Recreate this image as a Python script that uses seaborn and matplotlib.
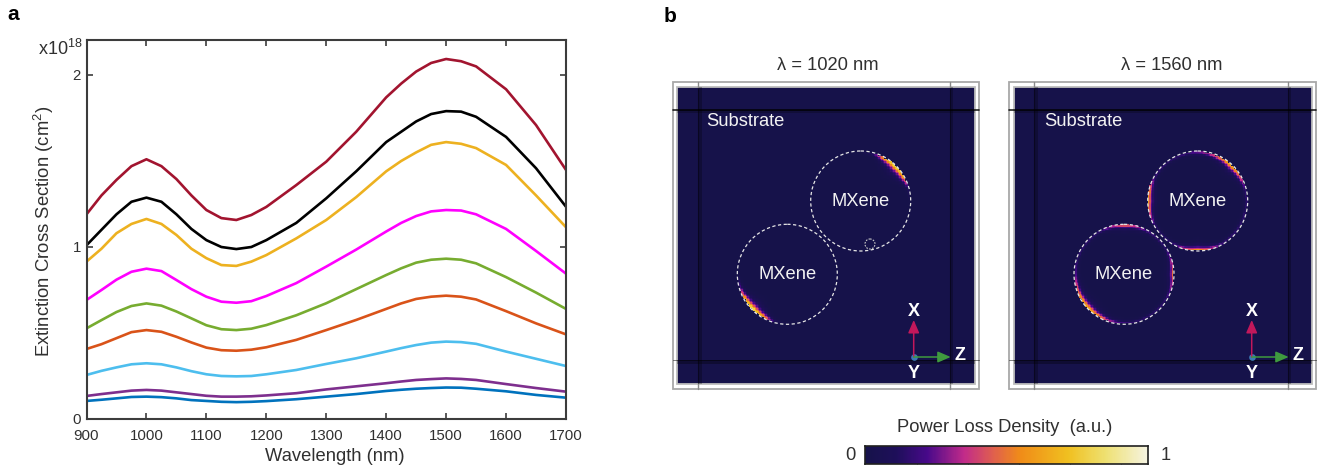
# Extinction spectra and power loss maps for MXene spheres
import numpy as np
import matplotlib.pyplot as plt
from matplotlib.colors import LinearSegmentedColormap
from matplotlib.patches import Rectangle, Circle
import seaborn as sns

W, H = 1319, 472

wavelength = [900, 925, 950, 975, 1000, 1025, 1050, 1075, 1100, 1125, 1150, 1175, 1200,
              1250, 1300, 1350, 1400, 1425, 1450, 1475, 1500, 1525, 1550, 1600, 1650, 1700]

blue = [.105, .112, .12, .128, .13, .127, .12, .11, .105, .10, .098, .10, .104,
        .115, .13, .145, .163, .17, .176, .18, .183, .182, .176, .161, .14, .124]
purple = [.134, .145, .155, .165, .169, .165, .155, .145, .135, .13, .13, .132, .137,
          .15, .172, .19, .208, .218, .227, .232, .236, .233, .227, .203, .18, .159]
light_blue = [.256, .28, .30, .318, .324, .318, .30, .278, .26, .25, .248, .25, .26,
              .285, .32, .353, .392, .412, .43, .444, .45, .447, .437, .392, .35, .308]
orange_red = [.407, .435, .47, .505, .517, .507, .478, .445, .415, .40, .397, .403, .417,
              .46, .517, .576, .64, .672, .698, .711, .717, .711, .695, .627, .556, .492]
green = [.527, .575, .622, .657, .672, .659, .625, .585, .545, .522, .517, .525, .546,
         .603, .673, .755, .837, .876, .909, .926, .932, .926, .905, .825, .735, .64]
magenta = [.692, .75, .81, .856, .874, .86, .808, .755, .711, .682, .676, .685, .715,
           .79, .886, .985, 1.09, 1.14, 1.18, 1.207, 1.215, 1.212, 1.19, 1.105, .977, .845]
yellow = [.915, .99, 1.08, 1.134, 1.163, 1.134, 1.07, .99, .935, .895, .89, .915, .953,
          1.05, 1.157, 1.29, 1.44, 1.50, 1.55, 1.594, 1.61, 1.60, 1.575, 1.477, 1.30, 1.115]
black = [1.01, 1.10, 1.19, 1.263, 1.287, 1.263, 1.19, 1.105, 1.04, 1.0, .988, 1.0, 1.04,
         1.14, 1.283, 1.44, 1.61, 1.67, 1.73, 1.773, 1.79, 1.787, 1.757, 1.64, 1.458, 1.234]
dark_red = [1.19, 1.30, 1.39, 1.47, 1.51, 1.47, 1.395, 1.30, 1.215, 1.168, 1.157, 1.186, 1.233,
            1.36, 1.496, 1.67, 1.87, 1.95, 2.02, 2.07, 2.093, 2.08, 2.05, 1.917, 1.709, 1.448]

series = [blue, purple, light_blue, orange_red, green, magenta, yellow, black, dark_red]
colors = ['#0072bd', '#7e2f8e', '#4dbeee', '#d95319', '#77ac30', '#ff00ff', '#edb120', '#000000', '#a2142f']

x_ticks = [900, 1000, 1100, 1200, 1300, 1400, 1500, 1600, 1700]
y_ticks = [0, 1, 2]

# rim intensity every 15 deg around each sphere, counter clockwise from +z
rim_angles = [0, 15, 30, 45, 60, 75, 90, 105, 120, 135, 150, 165, 180, 195, 210, 225, 240, 255,
              270, 285, 300, 315, 330, 345, 360]
rim_1020_upper = [0, .1, .6, .8, .62, .12, 0, 0, 0, 0, 0, 0, 0, 0, 0, 0, 0, 0, 0, 0, 0, 0, 0, 0, 0]
rim_1020_lower = [0, 0, 0, 0, 0, 0, 0, 0, 0, 0, 0, 0, 0, .2, .6, .8, .6, .08, 0, 0, 0, 0, 0, 0, 0]
rim_1560_upper = [.14, .16, .42, .65, .5, .32, .24, .16, .14, .14, .16, .45, .62, .38, .14, .14, .14, .36,
                  .6, .38, .16, .14, .14, .14, .14]
rim_1560_lower = [.5, .3, .14, .14, .18, .32, .45, .3, .14, .14, .14, .14, .2, .42, .55, .62, .5, .28,
                  .18, .14, .14, .14, .14, .28, .5]

cmap_colors = ['#16124a', '#1e0f5a', '#48098a', '#c12a8a', '#e0604d', '#f08c18', '#f0c020', '#eee070', '#f5f3e0']
cmap_stops = [0, .11, .22, .35, .455, .55, .72, .85, 1]
power_cmap = LinearSegmentedColormap.from_list('power', list(zip(cmap_stops, cmap_colors)))

sns.set_theme(style='ticks')
plt.rcParams['font.family'] = ['Liberation Sans', 'DejaVu Sans']
plt.rcParams['mathtext.default'] = 'regular'

DARK = '#3c3c3c'
TEXT = '#303030'

fig = plt.figure(figsize=(W / 100, H / 100), dpi=100)


def add_px_axes(left, top, right, bottom):
    return fig.add_axes([left / W, (H - bottom) / H, (right - left) / W, (bottom - top) / H])


# panel a
ax = add_px_axes(86.5, 40, 566, 419)
for vals, c in zip(series, colors):
    sns.lineplot(x=wavelength, y=vals, color=c, linewidth=1.9, ax=ax, errorbar=None)
ax.set_xlim(900, 1700)
ax.set_ylim(0, 379 / 172)
ax.set_xticks(x_ticks)
ax.set_yticks(y_ticks)
ax.tick_params(direction='in', length=4.5, width=1.2, color=DARK, top=True, right=True,
               labelsize=10.8, labelcolor=TEXT)
ax.tick_params(axis='x', pad=7)
ax.tick_params(axis='y', pad=4)
for s in ax.spines.values():
    s.set_visible(True)
    s.set_linewidth(1.5)
    s.set_color(DARK)
ax.set_xlabel('Wavelength (nm)', fontsize=13.2, color=TEXT)
ax.set_ylabel('Extinction Cross Section (cm$^{2}$)', fontsize=13.3, color=TEXT)
ax.xaxis.set_label_coords(0.518, -0.077)
ax.yaxis.set_label_coords(-0.064, 0.495)


def power_field(upper, lower, c_upper, c_lower, box, n=200, rad=50, depth=3.2):
    xs = np.linspace(box[0], box[2], n)
    ys = np.linspace(box[1], box[3], n)
    xx, yy = np.meshgrid(xs, ys)
    field = np.zeros_like(xx)
    for rim, (cx, cy) in ((upper, c_upper), (lower, c_lower)):
        dx, dy = xx - cx, cy - yy
        r = np.hypot(dx, dy)
        theta = np.degrees(np.arctan2(dy, dx)) % 360
        peak = np.interp(theta, rim_angles, rim)
        glow = peak * np.exp(-np.maximum(rad - 1.5 - r, 0) / (depth * (0.25 + peak)))
        field = np.where(r <= rad, np.maximum(field, glow), field)
    return field


# panel b, everything below is placed in figure pixels
panels = [
    dict(title='\u03bb = 1020 nm', frame=(672.7, 82.3, 979, 389.3), inner=(677.3, 87.3, 975, 384),
         vlines=(700, 951.5), upper=(860.7, 201), lower=(787.3, 274.3), rims=(rim_1020_upper, rim_1020_lower),
         origin=(913.7, 357), title_x=828, substrate_x=745),
    dict(title='\u03bb = 1560 nm', frame=(1009.3, 82.3, 1316, 389.3), inner=(1014, 87.3, 1311.7, 384),
         vlines=(1036, 1289.5), upper=(1197.7, 201), lower=(1124, 274.3), rims=(rim_1560_upper, rim_1560_lower),
         origin=(1251.7, 357), title_x=1172, substrate_x=1083.7),
]

for p in panels:
    hm_ax = add_px_axes(p['inner'][0], p['inner'][1], p['inner'][2], p['inner'][3])
    field = power_field(p['rims'][0], p['rims'][1], p['upper'], p['lower'], p['inner'])
    sns.heatmap(field, cmap=power_cmap, vmin=0, vmax=1, cbar=False, xticklabels=False, yticklabels=False,
                ax=hm_ax, rasterized=True)

over = fig.add_axes([0, 0, 1, 1], facecolor='none')
over.set_xlim(0, W)
over.set_ylim(H, 0)
over.axis('off')

FS = 13.2
for p in panels:
    l, t, r, b = p['frame']
    il, it, ir, ib = p['inner']
    over.add_patch(Rectangle((l, t), r - l, b - t, fill=False, ec='#a8a8a8', lw=1.3))
    over.add_patch(Rectangle((il, it), ir - il, ib - it, fill=False, ec='#bdbdbd', lw=1.3))
    # simulation box edges seen through the substrate
    for vx in p['vlines']:
        over.add_patch(Rectangle((vx - 1.8, it), 3.6, ib - it, fc='black', alpha=0.25, lw=0))
        over.plot([vx - 1.8, vx - 1.8], [it, ib], color='black', lw=0.8, alpha=0.4)
        over.plot([vx - 1.8, vx - 1.8], [t, it], color='#8a8a8a', lw=1)
        over.plot([vx - 1.8, vx - 1.8], [ib, b], color='#8a8a8a', lw=1)
    over.plot([l, r], [109.5, 109.5], color='black', lw=1.2, alpha=0.85)
    over.add_patch(Rectangle((il, 109.5), ir - il, 3, fc='black', alpha=0.22, lw=0))
    over.add_patch(Rectangle((il, 359.5), ir - il, 4.5, fc='black', alpha=0.3, lw=0))
    over.plot([l, r], [359.5, 359.5], color='black', lw=0.7, alpha=0.5)
    for c in (p['upper'], p['lower']):
        over.add_patch(Circle(c, 50, fill=False, ec='#e6e6e6', lw=0.9, ls=(0, (2.6, 2))))
        over.text(c[0], c[1], 'MXene', color='#f2f2f2', fontsize=FS, ha='center', va='center')
    over.text(p['substrate_x'], 121.7, 'Substrate', color='#f2f2f2', fontsize=FS, ha='center', va='center')
    over.text(p['title_x'], 66, p['title'], color=TEXT, fontsize=FS, ha='center', va='center')
    ox, oy = p['origin']
    over.annotate('', xy=(ox, oy - 37), xytext=(ox, oy),
                  arrowprops=dict(arrowstyle='-|>,head_width=0.28,head_length=0.65', color='#c2185b', lw=1.1,
                                  shrinkA=0, shrinkB=0))
    over.annotate('', xy=(ox + 37, oy), xytext=(ox, oy),
                  arrowprops=dict(arrowstyle='-|>,head_width=0.28,head_length=0.65', color='#3f9b3f', lw=1.1,
                                  shrinkA=0, shrinkB=0))
    over.plot([ox], [oy], 'o', ms=4.8, color='#3d7ab5', mew=0)
    for label, dx, dy in (('X', 0, -46), ('Z', 46, -1), ('Y', 0, 16)):
        over.text(ox + dx, oy + dy, label, color='white', fontsize=13, fontweight='bold', ha='center', va='center')

# small mouse trace in the first panel
over.add_patch(Circle((870, 244), 5, fill=False, ec='#c8c8c8', lw=0.8, ls=(0, (1.5, 1.2))))

# colour bar
cax = add_px_axes(865, 446, 1147.7, 464.3)
sns.heatmap(np.linspace(0, 1, 256).reshape(1, -1), cmap=power_cmap, vmin=0, vmax=1, cbar=False,
            xticklabels=False, yticklabels=False, ax=cax, rasterized=True)
cax.set_xticks(np.array([.185, .365, .545, .724, .905]) * 256)
cax.tick_params(axis='x', direction='in', length=2.5, width=0.7, color='#505050', top=True, bottom=True,
                labelbottom=False)
for s in cax.spines.values():
    s.set_visible(True)
    s.set_linewidth(1.2)
    s.set_color('#202020')

over.text(1005, 427, 'Power Loss Density  (a.u.)', color=TEXT, fontsize=FS, ha='center', va='center')
over.text(850, 455, '0', color=TEXT, fontsize=FS, ha='center', va='center')
over.text(1166, 455, '1', color=TEXT, fontsize=FS, ha='center', va='center')

over.text(13, 15, 'a', color='black', fontsize=15, fontweight='bold', ha='center', va='center')
over.text(670, 17, 'b', color='black', fontsize=15, fontweight='bold', ha='center', va='center')
over.text(83, 49, 'x10$^{18}$', color=TEXT, fontsize=13, ha='right', va='center')

fig.savefig('out.png', dpi=100)
